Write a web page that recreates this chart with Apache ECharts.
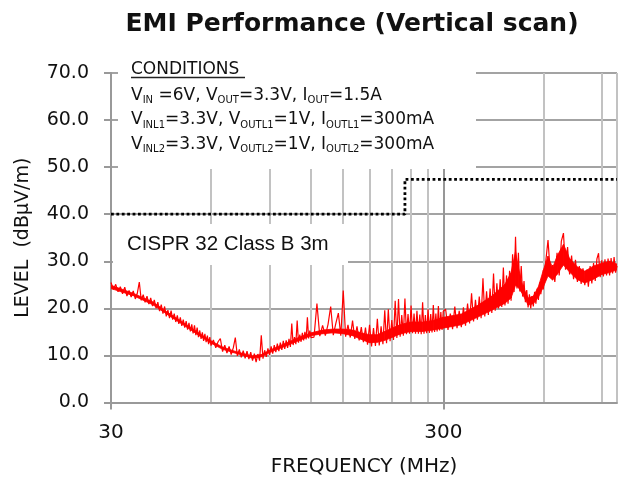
<!DOCTYPE html>
<html>
<head>
<meta charset="utf-8">
<script src="https://cdn.jsdelivr.net/npm/echarts@6/dist/echarts.min.js"></script>
<style>html,body{margin:0;padding:0;background:#fff}#c{width:626px;height:482px}</style>
</head>
<body>
<div id="c"></div>
<script>
// ---- data (frequency in MHz, level in dBuV/m) ----
// noisy peak trace (zig-zag between the band edges, with spikes)
const scan30to60 = [
[30,25.5],[30.5,24.0],[31,25.1],[31.5,23.5],[32,24.6],[32.5,23.1],[33,24.5],[33.5,22.6],[34,23.8],[34.5,22.4],
[35,23.7],[35.5,22.0],[36,23.2],[36.5,25.6],[37,21.7],[37.5,22.9],[38,21.3],[38.5,22.6],[39,20.9],[39.5,22.2],
[40,20.5],[40.5,21.8],[41,20.0],[41.5,21.3],[42,19.4],[42.5,20.8],[43,18.9],[43.5,20.4],[44,18.3],[44.5,19.6],
[45,17.9],[45.5,19.5],[46,17.6],[46.5,18.9],[47,17.1],[47.5,18.5],[48,16.7],[48.5,18.1],[49,16.3],[49.5,17.6],
[50,15.9],[50.5,17.3],[51,15.5],[51.5,16.9],[52,15.1],[52.5,16.6],[53,14.7],[53.5,16.4],[54,14.3],[54.5,15.9],
[55,13.9],[55.5,15.3],[56,13.5],[56.5,14.9],[57,13.1],[57.5,14.6],[58,12.8],[58.5,14.2],[59,12.4],[59.5,13.9],[60,12.1]
];
const scan60to120 = [
[61,13.3],[62,11.6],[63,12.9],[64,13.6],[65,10.8],[66,12.2],[67,10.5],[68,11.9],[69,10.2],[70,11.6],
[71,13.8],[72,9.9],[73,11.3],[74,9.6],[75,11.0],[76,9.4],[77,10.9],[78,9.2],[79,10.7],[80,8.9],
[81,10.4],[82,8.6],[83,10.3],[84,8.9],[85,14.3],[86,9.3],[87,11.1],[88,9.7],[89,11.5],[90,10.1],
[91,11.9],[92,10.4],[93,12.2],[94,10.7],[95,12.5],[96,10.9],[97,12.7],[98,11.2],[99,13.1],[100,11.4],
[101,13.2],[102,11.6],[103,13.5],[104,11.8],[105,16.8],[106,12.2],[107,13.9],[108,12.4],[109,17.4],[110,12.7],
[111,14.4],[112,12.9],[113,14.8],[114,13.2],[115,15.0],[116,13.4],[117,18.1],[118,13.6],[119,15.3],[120,13.8]
];
const scan120to300 = [
[122.5,13.9],[125,21.0],[127.5,14.1],[130,16.4],[132.5,14.2],[135,16.6],[137.5,20.4],[140,14.3],[142.5,16.8],[145,19.0],
[147.5,14.2],[150,23.8],[152.5,14.0],[155,16.5],[157.5,13.8],[160,17.4],[162.5,13.5],[165,16.2],[167.5,13.2],[170,16.0],
[172.5,12.8],[175,15.9],[177.5,12.3],[180,16.5],[182.5,11.9],[185,15.8],[187.5,12.0],[190,17.8],[192.5,12.1],[195,16.2],
[197.5,12.4],[200,19.6],[202.5,12.6],[205,19.8],[207.5,13.0],[210,17.5],[212.5,13.3],[215,21.6],[217.5,13.7],[220,22.0],
[222.5,14.0],[225,18.6],[227.5,14.2],[230,22.1],[232.5,14.5],[235,18.8],[237.5,14.6],[240,20.6],[242.5,14.7],[245,18.9],
[247.5,14.6],[250,19.5],[252.5,14.6],[255,18.7],[257.5,14.5],[260,21.3],[262.5,14.6],[265,18.6],[267.5,14.7],[270,19.8],
[272.5,14.8],[275,18.8],[277.5,14.9],[280,20.7],[282.5,15.0],[285,18.9],[287.5,15.1],[290,20.5],[292.5,15.3],[295,19.2],
[297.5,15.4],[300,19.4]
];
const scan300to600 = [
[305,19.8],[310,15.4],[315,18.9],[320,15.6],[325,20.4],[330,15.8],[335,19.5],[340,16.0],[345,20.2],[350,16.3],
[355,21.0],[360,16.8],[365,23.2],[370,17.2],[375,21.8],[380,17.6],[385,22.5],[390,17.9],[395,26.4],[400,18.3],
[405,23.6],[410,18.6],[415,24.2],[420,19.0],[425,27.4],[430,19.5],[435,25.3],[440,20.0],[445,26.2],[450,20.3],
[455,28.7],[460,20.6],[465,27.0],[470,21.0],[475,28.0],[480,21.6],[485,31.5],[490,23.5],[495,35.2],[500,24.2],
[505,31.8],[510,23.6],[515,29.0],[520,22.5],[525,25.8],[530,21.3],[535,23.9],[540,20.2],[545,23.0],[550,20.0],
[555,22.6],[560,20.4],[565,23.5],[570,21.0],[575,24.2],[580,21.8],[585,25.5],[590,23.0],[595,26.6],[600,24.0]
];
const scan600to1000 = [
[610,29.8],[620,34.5],[630,27.4],[640,29.2],[650,25.6],[660,31.8],[670,27.0],[680,34.3],[690,36.0],[700,28.2],
[710,33.0],[720,27.2],[730,31.2],[740,26.2],[750,30.3],[760,25.6],[770,29.0],[780,25.2],[790,28.5],[800,24.9],
[810,28.2],[820,24.6],[830,29.0],[840,25.3],[850,29.6],[860,25.8],[870,30.5],[880,31.7],[890,26.6],[900,30.2],
[910,26.8],[920,30.4],[930,27.0],[940,30.6],[950,27.0],[960,30.7],[970,27.4],[980,30.9],[990,27.6],[1000,29.0]
];
// solid core of the trace: lower and upper edge of the dense red band
const bandFreq = [30, 35, 40, 45, 50, 55, 60, 65, 70, 75, 80, 85, 90, 100, 110, 120, 130, 140, 150, 160,
                  170, 180, 190, 200, 210, 220, 230, 240, 260, 280, 300, 340, 380, 420, 460, 480, 495, 505, 520, 540,
                  560, 580, 600, 620, 640, 660, 690, 720, 760, 800, 850, 900, 950, 1000];
const bandLow  = [24.2, 22.7, 20.8, 18.4, 16.3, 14.3, 12.6, 11.3, 10.6, 10.0, 9.4, 9.7, 10.6, 11.9, 13.1, 14.2, 14.6, 14.8, 14.6, 14.2,
                  13.4, 12.7, 12.8, 13.2, 13.8, 14.4, 14.8, 15.1, 15.1, 15.4, 15.8, 16.5, 18.1, 19.6, 21.1, 22.2, 24.9, 24.4, 23.0, 20.7,
                  21.0, 22.4, 24.5, 26.9, 26.0, 27.2, 29.2, 27.7, 26.1, 25.4, 26.2, 27.2, 27.6, 28.2];
const bandHigh = [24.9, 23.2, 21.4, 18.9, 16.8, 14.8, 13.1, 11.8, 11.0, 10.4, 9.9, 10.2, 11.1, 12.5, 13.8, 14.8, 15.4, 15.6, 15.6, 15.4,
                  14.8, 14.4, 14.4, 15.1, 15.8, 16.4, 16.8, 17.1, 17.1, 17.4, 18.1, 18.8, 20.6, 22.6, 25.1, 27.6, 32.1, 28.6, 24.8, 22.2,
                  22.6, 24.6, 28.1, 31.1, 28.6, 31.1, 33.6, 30.6, 28.8, 27.9, 29.0, 29.6, 30.0, 29.4];
const limitFreq = [30, 230, 230, 1000];
const limitLevel = [40, 40, 47.4, 47.4];
const xLabelValues = [30, 300];
const xMinorGrid = [60, 90, 120, 150, 180, 210, 240, 270, 600, 900, 1000];

const scan = [].concat(scan30to60, scan60to120, scan120to300, scan300to600, scan600to1000);
const limit = limitFreq.map((f, i) => [f, limitLevel[i]]);
const band = bandFreq.map((f, i) => [f, bandLow[i], bandHigh[i]]);

const FONT = 'DejaVu Sans';
const TXT = '#111';
const RED = '#ff0000';
const gridRect = { left: 111, right: 9, top: 73, bottom: 79.5, outerBoundsMode: 'none', containLabel: false };

const rich = {
  m: { fontFamily: FONT, fontSize: 17, lineHeight: 20, verticalAlign: 'middle', fill: TXT },
  s: { fontFamily: FONT, fontSize: 10, lineHeight: 10, verticalAlign: 'bottom', fill: TXT }
};
function condLine(text, y) {
  return { type: 'text', x: 131, y: y, z: 51,
    style: { text: text, rich: rich, fill: TXT, fontFamily: FONT, fontSize: 17, align: 'left', verticalAlign: 'middle' } };
}

// band drawn as quads between consecutive band samples, positioned by the axes
function renderBand(params, api) {
  const i = params.dataIndex;
  if (i >= band.length - 1) return null;
  const a = band[i], b = band[i + 1];
  const pts = [
    api.coord([a[0], a[1]]), api.coord([a[0], a[2]]),
    api.coord([b[0], b[2]]), api.coord([b[0], b[1]])
  ];
  return { type: 'polygon', shape: { points: pts }, style: { fill: RED, stroke: RED, lineWidth: 0.8 } };
}

const chart = echarts.init(document.getElementById('c'), null, { renderer: 'canvas' });
chart.setOption({
  animation: false,
  backgroundColor: '#ffffff',
  title: {
    text: 'EMI Performance (Vertical scan)',
    left: 352, top: 12, textAlign: 'center', padding: 0,
    textStyle: { fontFamily: FONT, fontWeight: 'bold', fontSize: 25, color: TXT }
  },
  grid: [Object.assign({}, gridRect), Object.assign({}, gridRect)],
  xAxis: [
    {
      gridIndex: 0, type: 'log', logBase: 10, min: 30, max: 1000,
      axisLine: { show: true, lineStyle: { color: '#999', width: 2 } },
      axisTick: { show: false, customValues: xMinorGrid },
      axisLabel: { show: false },
      splitLine: { show: true, lineStyle: { color: '#c2c2c2', width: 2 } },
      minorTick: { show: false }, minorSplitLine: { show: false }
    },
    {
      gridIndex: 1, type: 'log', logBase: 10, min: 30, max: 1000,
      name: 'FREQUENCY (MHz)', nameLocation: 'middle', nameGap: 54, nameMoveOverlap: false,
      nameTextStyle: { fontFamily: FONT, fontSize: 20, color: TXT },
      axisLine: { show: false },
      axisTick: { show: true, inside: false, length: 7, customValues: xLabelValues, lineStyle: { color: '#999', width: 2 } },
      axisLabel: { show: true, customValues: xLabelValues, margin: 20, fontFamily: FONT, fontSize: 20, color: TXT,
                   formatter: v => String(v) },
      splitLine: { show: true, lineStyle: { color: '#979797', width: 2 } }
    }
  ],
  yAxis: [
    {
      gridIndex: 0, type: 'value', min: 0, max: 70, interval: 10,
      name: 'LEVEL  (dB\u00B5V/m)', nameLocation: 'middle', nameGap: 78, nameMoveOverlap: false,
      nameTextStyle: { fontFamily: FONT, fontSize: 19, color: TXT },
      axisLine: { show: true, lineStyle: { color: '#999', width: 2 } },
      axisTick: { show: true, inside: false, length: 7, lineStyle: { color: '#999', width: 2 } },
      axisLabel: { margin: 22, fontFamily: FONT, fontSize: 19, color: TXT, formatter: v => Number(v).toFixed(1) },
      splitLine: { show: true, lineStyle: { color: '#a3a3a3', width: 2 } }
    },
    { gridIndex: 1, type: 'value', min: 0, max: 70, interval: 10, show: false }
  ],
  graphic: [
    { type: 'rect', z: 50, shape: { x: 118, y: 55, width: 358, height: 114 }, style: { fill: '#ffffff' } },
    { type: 'rect', z: 50, shape: { x: 113, y: 224, width: 235, height: 41 }, style: { fill: '#ffffff' } },
    { type: 'text', x: 127, y: 244.5, z: 51,
      style: { text: 'CISPR 32 Class B 3m', fontFamily: 'Liberation Sans', fontSize: 20.5, fill: TXT, align: 'left', verticalAlign: 'middle' } },
    condLine('{m|CONDITIONS}', 70),
    { type: 'line', z: 51, shape: { x1: 131, y1: 77.5, x2: 245, y2: 77.5 }, style: { stroke: '#222', lineWidth: 1.3 } },
    condLine('{m|V}{s|IN}{m| =6V, V}{s|OUT}{m|=3.3V, I}{s|OUT}{m|=1.5A}', 95.5),
    condLine('{m|V}{s|INL1}{m|=3.3V, V}{s|OUTL1}{m|=1V, I}{s|OUTL1}{m|=300mA}', 120),
    condLine('{m|V}{s|INL2}{m|=3.3V, V}{s|OUTL2}{m|=1V, I}{s|OUTL2}{m|=300mA}', 144.5)
  ],
  series: [
    {
      name: 'band', type: 'custom', xAxisIndex: 0, yAxisIndex: 0, silent: true, z: 2,
      data: band, encode: { x: 0, y: [1, 2] }, renderItem: renderBand, clip: true
    },
    {
      name: 'Vertical scan', type: 'line', xAxisIndex: 0, yAxisIndex: 0,
      data: scan, symbol: 'none', showSymbol: false, smooth: false, z: 3,
      lineStyle: { color: RED, width: 1.2 }, itemStyle: { color: RED }
    },
    {
      name: 'CISPR 32 Class B 3m', type: 'line', xAxisIndex: 0, yAxisIndex: 0,
      data: limit, symbol: 'none', showSymbol: false, z: 4,
      lineStyle: { color: '#000000', width: 2.8, type: [2.8, 2.6] }, itemStyle: { color: '#000' }
    }
  ]
});
</script>
</body>
</html>
